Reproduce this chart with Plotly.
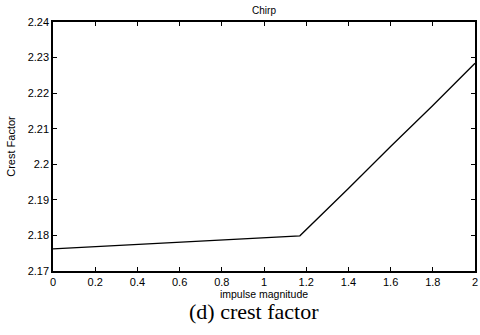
import plotly.graph_objects as go

impulse_magnitude = [0.0, 0.5, 1.0, 1.17, 1.4, 1.6, 1.8, 2.0]
crest_factor = [2.1762, 2.1778, 2.1794, 2.1799, 2.1932, 2.2050, 2.2165, 2.2284]

x_ticks = [0, 0.2, 0.4, 0.6, 0.8, 1, 1.2, 1.4, 1.6, 1.8, 2]
x_tick_labels = ["0", "0.2", "0.4", "0.6", "0.8", "1", "1.2", "1.4", "1.6", "1.8", "2"]
y_ticks = [2.17, 2.18, 2.19, 2.2, 2.21, 2.22, 2.23, 2.24]
y_tick_labels = ["2.17", "2.18", "2.19", "2.2", "2.21", "2.22", "2.23", "2.24"]

fig = go.Figure()
fig.add_trace(go.Scatter(x=impulse_magnitude, y=crest_factor, mode="lines",
                         line=dict(color="black", width=1.3), showlegend=False))

sans = "Arial, Liberation Sans, sans-serif"
axis_font = dict(family=sans, size=11, color="black")
fig.update_layout(
    width=480, height=335,
    margin=dict(l=53, r=3, t=22, b=64),
    paper_bgcolor="white", plot_bgcolor="white",
    title=dict(text="Chirp", x=0.55, xanchor="center", y=1 - 10 / 335, yanchor="middle",
               font=dict(family=sans, size=10, color="black")),
    xaxis=dict(range=[0, 2], tickvals=x_ticks, ticktext=x_tick_labels,
               ticks="inside", ticklen=4, tickcolor="black", mirror="allticks",
               showline=True, linecolor="black", linewidth=1.5, showgrid=False, zeroline=False,
               tickfont=axis_font,
               title=dict(text="impulse magnitude", standoff=0,
                          font=dict(family=sans, size=10.5, color="black"))),
    yaxis=dict(range=[2.17, 2.24], tickvals=y_ticks, ticktext=y_tick_labels,
               ticks="inside", ticklen=4, tickcolor="black", mirror="allticks",
               showline=True, linecolor="black", linewidth=1.5, showgrid=False, zeroline=False,
               tickfont=axis_font,
               title=dict(text="Crest Factor", standoff=10,
                          font=dict(family="Liberation Sans Narrow, Arial Narrow, " + sans,
                                    size=11, color="black"))),
    annotations=[dict(text="(d) crest factor", xref="paper", yref="paper",
                      x=0.476, y=-0.106, xanchor="center", yanchor="top", showarrow=False,
                      font=dict(family="Liberation Serif, Times New Roman, serif", size=22, color="black"))],
)

fig.write_html("out.html")
